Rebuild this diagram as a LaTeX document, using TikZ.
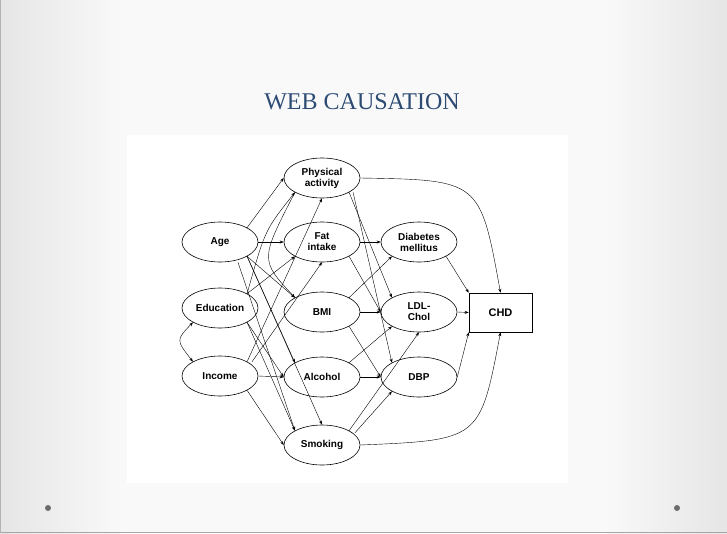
\documentclass[tikz,border=0pt]{standalone}
\usepackage{fontspec}
\setmainfont{Liberation Serif}
\newfontfamily\arialf{Liberation Sans}
\usetikzlibrary{shapes.geometric,arrows.meta}
\definecolor{titleblue}{RGB}{45,75,115}
\begin{document}
\begin{tikzpicture}[x=1pt,y=-1pt,
  el/.style={ellipse,draw,line width=0.6pt,minimum width=76pt,minimum height=40pt,inner sep=0pt,align=center,font=\arialf\fontsize{10}{11}\selectfont\bfseries},
  ar/.style={-{Stealth[length=4pt,width=3pt]},line width=0.4pt}]
\useasboundingbox (0,0) rectangle (727,533);
\fill[gray!5] (0,0) rectangle (727,533);
\shade[left color=gray!20,right color=gray!5] (0,0) rectangle (120,533);
\shade[right color=gray!20,left color=gray!5] (607,0) rectangle (727,533);
\draw[gray!70,line width=1pt] (0,532) -- (727,532);
\draw[gray!60,line width=0.6pt] (0.3,0) -- (0.3,533);
\fill[gray!85!black] (48,508) circle (3);
\fill[gray!85!black] (677,508) circle (3);
\node[text=titleblue,font=\fontsize{24}{28}\selectfont] (title) at (362,102) {WEB CAUSATION};
\fill[white] (127,135) rectangle (568,483);
\node[el] (pa) at (322,178) {Physical\\activity};
\node[el] (age) at (220,242) {Age};
\node[el] (fat) at (322,242) {Fat\\intake};
\node[el] (dia) at (419,242) {Diabetes\\mellitus};
\node[el] (edu) at (220,308) {Education};
\node[el] (bmi) at (322,312) {BMI};
\node[el] (ldl) at (419,312) {LDL-\\Chol};
\node[draw,line width=0.6pt,minimum width=63pt,minimum height=39pt,font=\arialf\fontsize{11}{12}\selectfont\bfseries] (chd) at (500.5,312.5) {CHD};
\node[el] (inc) at (220,376) {Income};
\node[el] (alc) at (322,377) {Alcohol};
\node[el] (dbp) at (419,377) {DBP};
\node[el] (smk) at (322,445) {Smoking};
% age
\draw[ar] (age.north east) -- (pa.west);
\draw[ar] (age.east) -- (fat.west);
\draw[ar] (age.south east) -- (bmi.north west);
\draw[ar] (age.south east) -- (alc.north west);
\draw[ar] (age.south east) -- (smk.north);
\draw[ar] (age.south) ++(18,0) -- (smk.north west);
% education
\draw[ar] (edu.north east) .. controls (265,230) .. (pa.south west);
\draw[ar] (edu.north east) -- (fat.south west);
\draw[ar] (edu.south east) -- (alc.west);
\draw[ar] (edu.south east) -- (smk.north west);
\draw[{Stealth[length=4pt,width=3pt]}-{Stealth[length=4pt,width=3pt]},line width=0.4pt] (edu.south west) .. controls (176,340) .. (inc.north west);
% income
\draw[ar] (inc.north east) -- (pa.south);
\draw[ar] (inc.north east) ++(5,0) -- (fat.south);
\draw[ar] (inc.east) -- (alc.west);
\draw[ar] (inc.south east) -- (smk.west);
% pa
\draw[ar] (pa.south west) .. controls (260,260) .. (bmi.north west);
\draw[ar] (pa.south east) -- (ldl.north west);
\draw[ar] (pa.south east) ++(4,0) -- (dbp.north west);
\draw[ar] (pa.east) .. controls (480,180) .. (chd.north);
% fat
\draw[ar] (fat.east) -- (dia.west);
\draw[ar] (fat.south east) -- (ldl.west);
% bmi
\draw[ar] (bmi.north east) -- (dia.south west);
\draw[ar] (bmi.east) -- (ldl.west);
\draw[ar] (bmi.south east) -- (dbp.west);
% alcohol
\draw[ar] (alc.north east) -- (ldl.south west);
\draw[ar] (alc.east) -- (dbp.west);
% smoking
\draw[ar] (smk.north east) -- (ldl.south);
\draw[ar] (smk.north east) ++(6,2) -- (dbp.south west);
\draw[ar] (smk.east) .. controls (480,440) .. (chd.south);
% to CHD
\draw[ar] (dia.south east) -- (chd.north west);
\draw[ar] (ldl.east) -- (chd.west);
\draw[ar] (dbp.east) -- (chd.south west);
\end{tikzpicture}
\end{document}
